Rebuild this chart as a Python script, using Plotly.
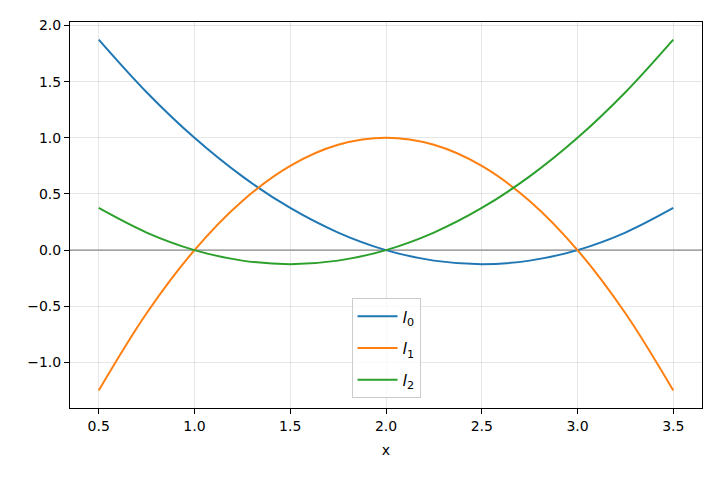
import plotly.graph_objects as go

x_vals = [0.5, 0.75, 1.0, 1.25, 1.5, 1.75, 2.0, 2.25, 2.5, 2.75, 3.0, 3.25, 3.5]
l0_vals = [1.875, 1.40625, 1.0, 0.65625, 0.375, 0.15625, 0.0, -0.09375, -0.125, -0.09375, 0.0, 0.15625, 0.375]
l1_vals = [-1.25, -0.5625, 0.0, 0.4375, 0.75, 0.9375, 1.0, 0.9375, 0.75, 0.4375, 0.0, -0.5625, -1.25]
l2_vals = [0.375, 0.15625, 0.0, -0.09375, -0.125, -0.09375, 0.0, 0.15625, 0.375, 0.65625, 1.0, 1.40625, 1.875]
names = ["<i>l</i><sub>0</sub>", "<i>l</i><sub>1</sub>", "<i>l</i><sub>2</sub>"]
colors = ["#1f77b4", "#ff7f0e", "#2ca02c"]
x_ticks = [0.5, 1.0, 1.5, 2.0, 2.5, 3.0, 3.5]
y_ticks = [-1.0, -0.5, 0.0, 0.5, 1.0, 1.5, 2.0]

fig = go.Figure()
for i, (ys, nm, c) in enumerate(zip([l0_vals, l1_vals, l2_vals], names, colors)):
    fig.add_trace(go.Scatter(x=x_vals, y=ys, mode="lines", name=nm, legendgroup=f"g{i}",
                             line=dict(color=c, width=2, shape="spline", smoothing=1.0)))

fig.add_hline(y=0, line=dict(color="#808080", width=1.3), layer="below")

axis_common = dict(showline=True, mirror=True, linecolor="black", linewidth=1,
                   ticks="outside", ticklen=5, tickcolor="black",
                   showgrid=True, gridcolor="rgba(176,176,176,0.3)", gridwidth=1,
                   zeroline=False, tickfont=dict(size=14, color="black"))

fig.update_xaxes(range=[0.35, 3.65], tickvals=x_ticks, ticktext=[f"{t:.1f}" for t in x_ticks],
                 title=dict(text="x", font=dict(size=14, color="black"), standoff=12), **axis_common)
fig.update_yaxes(range=[-1.40625, 2.03125], tickvals=y_ticks,
                 ticktext=[f"{t:.1f}".replace("-", "\u2212") for t in y_ticks], **axis_common)

fig.update_layout(
    width=720, height=480,
    margin=dict(l=70, r=18, t=22, b=72),
    plot_bgcolor="white", paper_bgcolor="white",
    font=dict(family="DejaVu Sans", color="black"),
    legend=dict(x=0.5, y=0.025, xanchor="center", yanchor="bottom",
                bgcolor="rgba(255,255,255,0.8)", bordercolor="#cccccc", borderwidth=1,
                font=dict(size=16), tracegroupgap=8, itemwidth=40),
)

fig.write_html("out.html", config={"displayModeBar": False})
with open("out.html", "r", encoding="utf-8") as f:
    html = f.read()
html = html.replace("<head>", "<head><style>html,body{margin:0;padding:0;}</style>", 1)
with open("out.html", "w", encoding="utf-8") as f:
    f.write(html)
